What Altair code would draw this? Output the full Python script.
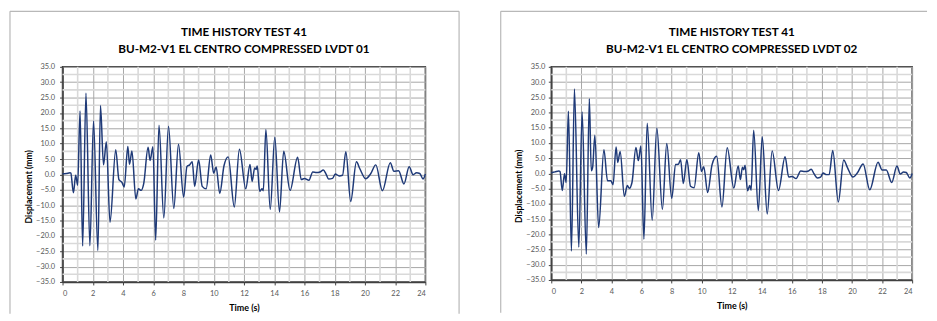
import altair as alt
import pandas as pd

# ---- data ----
t1 = [0, 0.25, 0.5, 0.55, 0.72, 0.87, 1.0, 1.16, 1.33, 1.55, 1.81, 2.05, 2.34, 2.51, 2.71,
      2.9, 3.14, 3.52, 3.73, 3.93, 4.08, 4.32, 4.43, 4.59, 4.85, 5.02, 5.2, 5.37, 5.66, 5.79,
      5.98, 6.16, 6.38, 6.7, 7.01, 7.36, 7.67, 8.01, 8.23, 8.41, 8.58, 8.74, 9.0, 9.24, 9.5,
      9.8, 10.0, 10.16, 10.4, 10.68, 10.96, 11.36, 11.7, 12.12, 12.4, 12.54, 12.71, 12.8, 12.88,
      13.04, 13.19, 13.28, 13.45, 13.74, 14.04, 14.35, 14.63, 15.05, 15.55, 15.79, 16.0, 16.3,
      16.55, 16.8, 17.03, 17.25, 17.43, 17.6, 17.86, 18.04, 18.3, 18.52, 18.74, 19.06, 19.44,
      19.65, 20.05, 20.38, 20.72, 21.16, 21.68, 21.92, 22.23, 22.58, 22.93, 23.19, 23.41, 23.63,
      23.85, 24.0]
d1 = [0.2, 0.3, 0.5, 0.4, -6.0, -0.3, -3.5, 20.6, -23.3, 26.4, -23.2, 17.4, -24.8, 22.4, 3.1,
      10.6, -15.6, 8.0, -1.7, -2.6, -4.1, 9.1, 3.3, 7.6, -8.0, -4.7, -5.2, -3.0, 8.8, 4.5,
      9.0, -21.4, 16.0, -14.2, 15.7, -11.1, 9.8, -7.4, 2.6, 3.1, 4.1, -3.9, 4.8, -3.9, -4.7,
      6.3, 0.4, 2.4, -6.2, 2.8, 5.7, -10.6, 8.2, -4.7, 3.2, -2.3, 2.1, 1.6, 2.7,
      -5.5, -4.7, -5.3, 14.6, -11.4, 12.1, -12.2, 7.5, -5.2, 5.6, -1.7, -1.3, -1.9,
      0.8, 0.6, 0.8, 1.4, 0.1, -1.5, -1.3, 0.1, -0.5, -0.3, 7.4, -8.8, 4.1,
      2.0, -1.4, 0.2, 3.1, -5.3, 3.8, 1.0, 1.2, -3.1, 2.5, -0.1, 0.5, 0.3,
      -1.5, 0.1]

t2 = [0, 0.25, 0.5, 0.58, 0.73, 0.88, 0.99, 1.14, 1.34, 1.54, 1.83, 2.05, 2.33, 2.53, 2.66,
      2.75, 2.9, 3.15, 3.5, 3.74, 3.96, 4.11, 4.31, 4.42, 4.58, 4.86, 5.06, 5.19, 5.37, 5.63,
      5.79, 5.96, 6.16, 6.38, 6.71, 7.02, 7.39, 7.68, 8.01, 8.27, 8.45, 8.6, 8.78, 9.02, 9.26,
      9.5, 9.81, 9.99, 10.14, 10.4, 10.69, 11.0, 11.35, 11.7, 12.14, 12.43, 12.58, 12.71, 12.8,
      12.89, 13.05, 13.2, 13.29, 13.46, 13.77, 14.03, 14.36, 14.69, 15.11, 15.55, 15.79, 16.01,
      16.28, 16.59, 16.85, 17.11, 17.29, 17.47, 17.69, 17.91, 18.08, 18.3, 18.48, 18.72, 19.09,
      19.45, 19.69, 20.06, 20.35, 20.74, 21.18, 21.73, 22.0, 22.28, 22.64, 22.99, 23.21, 23.43,
      23.61, 23.85, 24.0]
d2 = [0.2, 0.5, 0.8, 0.6, -5.6, -0.1, -3.0, 20.4, -25.5, 27.7, -24.2, 20.2, -26.5, 24.5, 0.9,
      2.0, 12.5, -17.8, 7.8, -2.4, -2.4, -3.7, 8.7, 3.6, 7.2, -7.5, -4.0, -4.9, -2.9, 8.5,
      4.2, 9.0, -21.6, 16.5, -15.4, 14.9, -11.8, 9.8, -8.2, 2.9, 3.0, 4.5, -3.3, 4.6, -4.2,
      -4.7, 6.8, 0.6, 2.2, -6.3, 2.8, 5.6, -11.0, 8.4, -4.8, 2.4, -2.0, 2.0, 1.2,
      2.7, -5.7, -4.0, -5.5, 14.2, -12.2, 12.0, -13.3, 7.4, -5.6, 5.5, -1.2, -1.0,
      -1.7, 0.8, 0.6, 0.8, 1.4, -0.1, -1.5, -1.2, 0.1, -0.4, -0.4, 7.5, -9.4,
      4.4, 2.0, -1.2, 0.1, 3.1, -5.4, 3.7, 1.1, 1.1, -3.0, 2.4, -0.2, 0.5,
      0.3, -1.5, 0.0]

title1 = ["TIME HISTORY TEST 41", "BU-M2-V1 EL CENTRO COMPRESSED LVDT 01"]
title2 = ["TIME HISTORY TEST 41", "BU-M2-V1 EL CENTRO COMPRESSED LVDT 02"]
x_title = "Time (s)"
y_title = "Displacement (mm)"

x_ticks = [0, 2, 4, 6, 8, 10, 12, 14, 16, 18, 20, 22, 24]
x_minor = [1, 3, 5, 7, 9, 11, 13, 15, 17, 19, 21, 23]
y_ticks = [-35, -30, -25, -20, -15, -10, -5, 0, 5, 10, 15, 20, 25, 30, 35]
y_minor = [-32.5, -27.5, -22.5, -17.5, -12.5, -7.5, -2.5, 2.5, 7.5, 12.5, 17.5, 22.5, 27.5, 32.5]

FONT = "Lato"
LINE = "#1F3A78"
FRAME = "#b8b8b8"


def panel(t, d, title, w, h, ytx, yty, ylabpad, frame):
    xs = alt.Scale(domain=[0, 24], nice=False, zero=False)
    ys = alt.Scale(domain=[-35, 35], nice=False, zero=False)

    xaxis = alt.Axis(values=x_ticks, format="d", labelFont=FONT, labelFontSize=7.5,
                     labelColor="#595959", tickSize=3, tickColor="#404040",
                     labelPadding=5, domainColor="#404040", domainWidth=1.5,
                     grid=True, gridColor="#a6a6a6", gridWidth=1,
                     title=x_title, titleFont=FONT, titleFontSize=9,
                     titleFontWeight="bold", titleColor="#000000",
                     titleX=w / 2, titleY=26, titleBaseline="middle", titleAlign="center")
    yaxis = alt.Axis(values=y_ticks, format=".1f", labelFont=FONT, labelFontSize=7.5,
                     labelColor="#595959", tickSize=3, tickColor="#404040",
                     labelPadding=ylabpad, domainColor="#404040", domainWidth=1.5,
                     grid=True, gridColor="#a6a6a6", gridWidth=1,
                     title=y_title, titleFont=FONT, titleFontSize=8.7,
                     titleFontWeight="bold", titleColor="#000000",
                     titleX=ytx, titleY=yty, titleAngle=270,
                     titleBaseline="middle", titleAlign="center")

    vminor = alt.Chart(pd.DataFrame({"x": x_minor})).mark_rule(
        color="#d9d9d9", strokeWidth=1.6
    ).encode(x=alt.X("x:Q", scale=xs, axis=xaxis))
    hminor = alt.Chart(pd.DataFrame({"y": y_minor})).mark_rule(
        color="#d9d9d9", strokeWidth=1.6
    ).encode(y=alt.Y("y:Q", scale=ys, axis=yaxis))

    line = alt.Chart(pd.DataFrame({"t": t, "d": d})).mark_line(
        color=LINE, strokeWidth=1.5, interpolate="monotone"
    ).encode(
        x=alt.X("t:Q", scale=xs, axis=xaxis),
        y=alt.Y("d:Q", scale=ys, axis=yaxis),
    )

    one = pd.DataFrame({"k": [0]})
    titles = [
        alt.Chart(one).mark_text(font=FONT, fontSize=11.8, fontWeight="bold",
                                 color="#000000", align="center", baseline="middle").encode(
            x=alt.value(w / 2), y=alt.value(yy), text=alt.value(txt))
        for txt, yy in zip(title, [-35, -18])
    ]

    fx0, fx1, fy0, fy1, has_right = frame
    frames = [
        alt.Chart(one).mark_rule(color=FRAME, strokeWidth=1.2).encode(
            x=alt.value(fx0), y=alt.value(fy0), y2=alt.value(fy1)),
        alt.Chart(one).mark_rule(color=FRAME, strokeWidth=1.2).encode(
            x=alt.value(fx0), x2=alt.value(fx1), y=alt.value(fy0)),
    ]
    if has_right:
        frames.append(alt.Chart(one).mark_rule(color=FRAME, strokeWidth=1.2).encode(
            x=alt.value(fx1), y=alt.value(fy0), y2=alt.value(fy1)))

    return alt.layer(vminor, hminor, line, *titles, *frames).properties(width=w, height=h)


left = panel(t1, d1, title1, 366, 217, -34, 120.5, 5, (-53, 400, -56, 249, True))
right = panel(t2, d2, title2, 364, 215, -33, 120, 3.5, (-51, 379, -56, 248, False))

chart = alt.hconcat(left, right, spacing=38).properties(
    padding=0, background="white"
).configure_view(stroke="#404040", strokeWidth=1.5)

chart.save("out.html", embed_options={"renderer": "svg", "actions": False})
